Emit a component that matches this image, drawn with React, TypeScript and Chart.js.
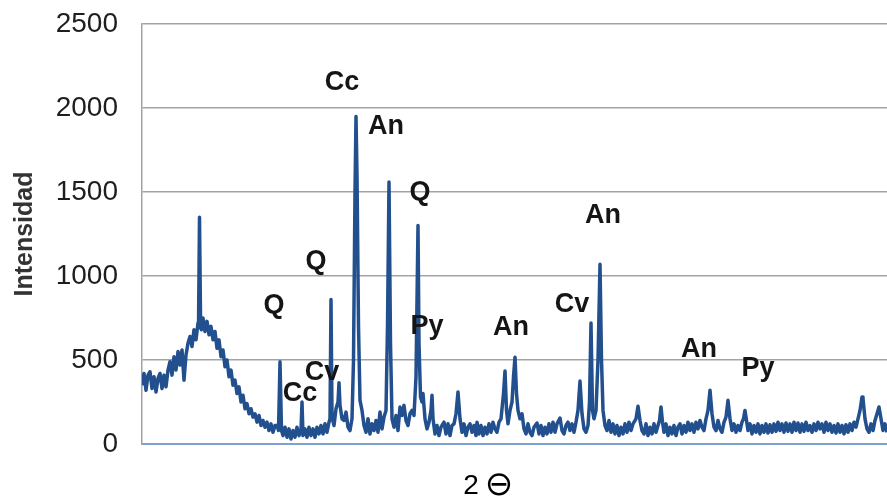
import React, { useEffect, useRef } from "react";
import { Chart, registerables } from "chart.js";
Chart.register(...registerables);

// 2θ positions (degrees) and measured intensity (counts)
const twoTheta = [
  5.0, 5.2, 5.4, 5.6, 5.8, 6.0, 6.2, 6.4, 6.6, 6.8,
  7.0, 7.2, 7.4, 7.6, 7.8, 8.0, 8.2, 8.4, 8.6, 8.8,
  9.0, 9.2, 9.4, 9.6, 9.8, 10.0, 10.2, 10.4, 10.6, 10.65,
  10.75, 10.85, 10.95, 11.1, 11.3, 11.5, 11.7, 11.9, 12.1, 12.3,
  12.5, 12.7, 12.9, 13.1, 13.3, 13.5, 13.7, 13.9, 14.1, 14.3,
  14.5, 14.7, 14.9, 15.1, 15.3, 15.5, 15.7, 15.9, 16.1, 16.3,
  16.5, 16.7, 16.9, 17.1, 17.3, 17.5, 17.7, 17.9, 18.1, 18.3,
  18.5, 18.65, 18.8, 18.95, 19.1, 19.3, 19.5, 19.7, 19.9, 20.1,
  20.3, 20.5, 20.7, 20.9, 21.0, 21.1, 21.3, 21.5, 21.7, 21.9,
  22.1, 22.3, 22.5, 22.7, 22.9, 23.1, 23.3, 23.5, 23.7, 23.8,
  23.9, 24.0, 24.2, 24.4, 24.6, 24.7, 24.8, 25.0, 25.2, 25.4,
  25.6, 25.8, 26.0, 26.15, 26.3, 26.4, 26.5, 26.65, 26.8, 27.0,
  27.2, 27.4, 27.6, 27.8, 28.0, 28.2, 28.4, 28.6, 28.8, 29.0,
  29.2, 29.4, 29.55, 29.7, 29.85, 30.0, 30.2, 30.4, 30.6, 30.8,
  31.0, 31.2, 31.4, 31.6, 31.8, 32.0, 32.2, 32.4, 32.6, 32.7,
  32.85, 33.0, 33.1, 33.3, 33.5, 33.7, 33.9, 34.0, 34.1, 34.3,
  34.5, 34.7, 34.9, 35.2, 35.4, 35.6, 35.8, 36.0, 36.2, 36.4,
  36.6, 36.8, 37.0, 37.2, 37.4, 37.6, 37.8, 38.0, 38.2, 38.4,
  38.5, 38.7, 38.9, 39.1, 39.3, 39.5, 39.7, 39.9, 40.1, 40.3,
  40.5, 40.7, 40.9, 41.15, 41.3, 41.45, 41.6, 41.8, 42.0, 42.15,
  42.3, 42.45, 42.6, 42.8, 43.0, 43.2, 43.4, 43.6, 43.8, 44.0,
  44.2, 44.5, 44.7, 44.9, 45.1, 45.3, 45.5, 45.7, 45.9, 46.1,
  46.3, 46.5, 46.8, 47.0, 47.2, 47.4, 47.6, 47.8, 48.0, 48.2,
  48.4, 48.6, 48.8, 49.0, 49.2, 49.4, 49.6, 49.75, 49.9, 50.05,
  50.2, 50.4, 50.6, 50.8, 50.95, 51.1, 51.3, 51.5, 51.7, 51.9,
  52.1, 52.3, 52.5, 52.7, 52.9, 53.1, 53.3, 53.5, 53.7, 53.9,
  54.1, 54.4, 54.6, 54.8, 55.0, 55.2, 55.4, 55.6, 55.8, 56.0,
  56.2, 56.4, 56.6, 56.75, 56.9, 57.05, 57.2, 57.4, 57.6, 57.8,
  58.0, 58.2, 58.4, 58.6, 58.8, 59.0, 59.2, 59.4, 59.6, 59.8,
  60.0, 60.2, 60.4, 60.6, 60.8, 61.0, 61.2, 61.4, 61.6, 61.8,
  62.0, 62.2, 62.4, 62.6, 62.8, 63.0, 63.2, 63.4, 63.6, 63.8,
  64.0, 64.2, 64.4, 64.6, 64.8, 65.0, 65.15, 65.3, 65.45, 65.6,
  65.8, 66.0, 66.2, 66.4, 66.6, 66.8, 67.0, 67.2, 67.4, 67.6,
  67.8, 68.0, 68.2, 68.4, 68.6, 68.8, 69.0, 69.2, 69.4, 69.6,
  69.8, 70.0, 70.2, 70.4, 70.6, 70.8, 71.0, 71.2, 71.4, 71.6,
  71.8, 72.0, 72.2, 72.4, 72.6, 72.8, 73.0, 73.2, 73.4, 73.6,
  73.8, 74.0, 74.2, 74.4, 74.6, 74.8, 75.0, 75.2, 75.4, 75.6,
  75.8, 76.0, 76.2, 76.4, 76.6, 76.8, 77.0, 77.1, 77.3, 77.5,
  77.7, 77.9, 78.1, 78.3, 78.5, 78.7, 78.9, 79.1, 79.3, 79.5,
];

const intensity = [
  350, 420, 320, 410, 430, 330, 400, 310, 390, 420,
  330, 410, 340, 440, 490, 410, 520, 440, 550, 470,
  560, 380, 530, 600, 640, 580, 680, 620, 720, 690,
  1350, 760, 680, 750, 670, 730, 650, 700, 620, 670,
  570, 620, 520, 560, 460, 500, 400, 440, 350, 380,
  300, 340, 250, 290, 210, 240, 180, 210, 160, 180,
  130, 170, 110, 140, 100, 130, 80, 120, 70, 110,
  110, 80, 490, 80, 50, 100, 40, 90, 30, 80,
  40, 100, 50, 80, 250, 50, 90, 40, 100, 50,
  90, 40, 100, 60, 110, 60, 120, 70, 130, 150,
  860, 160, 110, 210, 250, 365, 230, 150, 140, 190,
  100, 80, 150, 500, 1500, 1950, 1600, 700, 260, 200,
  110, 70, 150, 60, 120, 80, 140, 70, 190, 90,
  160, 200, 700, 1560, 600, 150, 100, 170, 80, 220,
  170, 230, 140, 110, 180, 200, 170, 400, 1300, 600,
  280, 250, 300, 150, 90, 130, 200, 290, 150, 60,
  110, 50, 100, 130, 60, 120, 50, 110, 120, 180,
  310, 150, 70, 120, 50, 100, 120, 70, 110, 50,
  130, 60, 110, 50, 100, 60, 120, 70, 130, 90,
  70, 130, 150, 300, 435, 200, 120, 200, 250, 400,
  517, 300, 200, 150, 180, 90, 60, 120, 70, 50,
  100, 125, 60, 110, 50, 100, 60, 120, 70, 130,
  70, 120, 155, 80, 60, 110, 130, 80, 120, 70,
  130, 200, 375, 180, 90, 70, 110, 250, 720, 200,
  150, 200, 500, 1070, 500, 200, 110, 80, 140, 70,
  120, 60, 110, 50, 100, 60, 120, 70, 130, 80,
  120, 150, 225, 140, 80, 60, 120, 50, 100, 60,
  120, 70, 110, 140, 220, 130, 70, 120, 50, 100,
  60, 110, 50, 100, 120, 60, 110, 70, 130, 80,
  120, 70, 130, 90, 140, 100, 80, 150, 200, 320,
  180, 100, 80, 140, 90, 70, 130, 160, 260, 150,
  80, 120, 70, 110, 80, 130, 150, 200, 140, 80,
  120, 60, 110, 70, 120, 60, 110, 70, 120, 65,
  115, 70, 120, 75, 130, 80, 120, 70, 125, 75,
  120, 70, 130, 80, 125, 70, 120, 75, 130, 80,
  110, 70, 120, 80, 130, 90, 120, 70, 130, 80,
  120, 70, 110, 65, 120, 70, 110, 60, 115, 70,
  120, 80, 130, 100, 150, 200, 280, 270, 150, 90,
  70, 120, 80, 140, 180, 220, 150, 80, 120, 70,
];

const yTicks = [0, 500, 1000, 1500, 2000, 2500];

// Phase labels placed in data coordinates (2θ, intensity)
const phaseLabels = ["Cc", "An", "Q", "Q", "Q", "Py", "An", "Cv", "An", "Cv", "Cc", "An", "Py"];
const labelTheta = [25.0, 29.4, 32.8, 22.4, 18.2, 33.5, 41.9, 48.0, 51.1, 23.0, 20.8, 60.7, 66.6];
const labelIntensity = [2149, 1887, 1494, 1089, 827, 702, 696, 833, 1357, 428, 298, 565, 452];

const yTitle = "Intensidad";
const xTitleNumber = "2";
const xTitleSymbol = "⊖";

const annotatePlugin = {
  id: "annotatePlugin",
  afterDatasetsDraw(chart: any) {
    const { ctx, scales } = chart;
    const x = scales.x;
    const y = scales.y;
    ctx.save();
    ctx.font = "bold 27px 'Liberation Sans', Arial, sans-serif";
    ctx.fillStyle = "#151515";
    ctx.textAlign = "center";
    ctx.textBaseline = "middle";
    phaseLabels.forEach((t, i) => {
      ctx.fillText(t, x.getPixelForValue(labelTheta[i]), y.getPixelForValue(labelIntensity[i]));
    });
    // x-axis title "2⊖"
    ctx.fillStyle = "#000";
    ctx.font = "28px 'Liberation Sans', Arial, sans-serif";
    ctx.fillText(xTitleNumber, 471, 486);
    ctx.font = "34px 'DejaVu Sans', sans-serif";
    ctx.fillText(xTitleSymbol, 499, 486);
    ctx.restore();
  },
};

export default function App() {
  const canvasRef = useRef<HTMLCanvasElement | null>(null);

  useEffect(() => {
    if (!canvasRef.current) return;
    const chart = new Chart(canvasRef.current, {
      type: "line",
      data: {
        datasets: [
          {
            label: "DRX",
            data: twoTheta.map((t, i) => ({ x: t, y: intensity[i] })),
            borderColor: "#22508e",
            borderWidth: 3.5,
            pointRadius: 0,
            fill: false,
            tension: 0,
            borderJoinStyle: "round",
          },
        ],
      },
      options: {
        animation: false,
        responsive: false,
        layout: { padding: { top: 24, right: 0, left: 0, bottom: 0 } },
        plugins: {
          legend: { display: false },
          tooltip: { enabled: false },
        },
        scales: {
          x: {
            type: "linear",
            min: 5,
            max: 79.5,
            ticks: { display: false },
            grid: { display: false, drawTicks: false },
            border: { display: true, color: "#7fa3d1", width: 2, dash: [4, 3] },
            afterFit: (scale: any) => {
              scale.height = 59;
            },
          },
          y: {
            min: 0,
            max: 2500,
            afterBuildTicks: (scale: any) => {
              scale.ticks = yTicks.map((v) => ({ value: v }));
            },
            ticks: {
              padding: 24,
              color: "#1e1e1e",
              font: { family: "'Liberation Sans', Arial, sans-serif", size: 28 },
              callback: (v: any) => String(v),
            },
            grid: {
              drawTicks: false,
              lineWidth: 1.5,
              color: (c: any) => (c.tick && c.tick.value === 0 ? "rgba(0,0,0,0)" : "#a3a3a3"),
            },
            border: { display: true, color: "#a3a3a3", width: 1.5 },
            title: {
              display: true,
              text: yTitle,
              color: "#333",
              font: { family: "'Liberation Sans', Arial, sans-serif", size: 25, weight: "bold" },
              padding: { top: 10, bottom: 0 },
            },
            afterFit: (scale: any) => {
              scale.width = 142;
              scale.paddingTop = 0;
              scale.paddingBottom = 0;
            },
          },
        },
      },
      plugins: [annotatePlugin],
    });
    return () => chart.destroy();
  }, []);

  return (
    <div style={{ position: "absolute", left: 0, top: 0, width: 887, height: 503, background: "#fff" }}>
      <canvas ref={canvasRef} width={887} height={503} />
    </div>
  );
}
